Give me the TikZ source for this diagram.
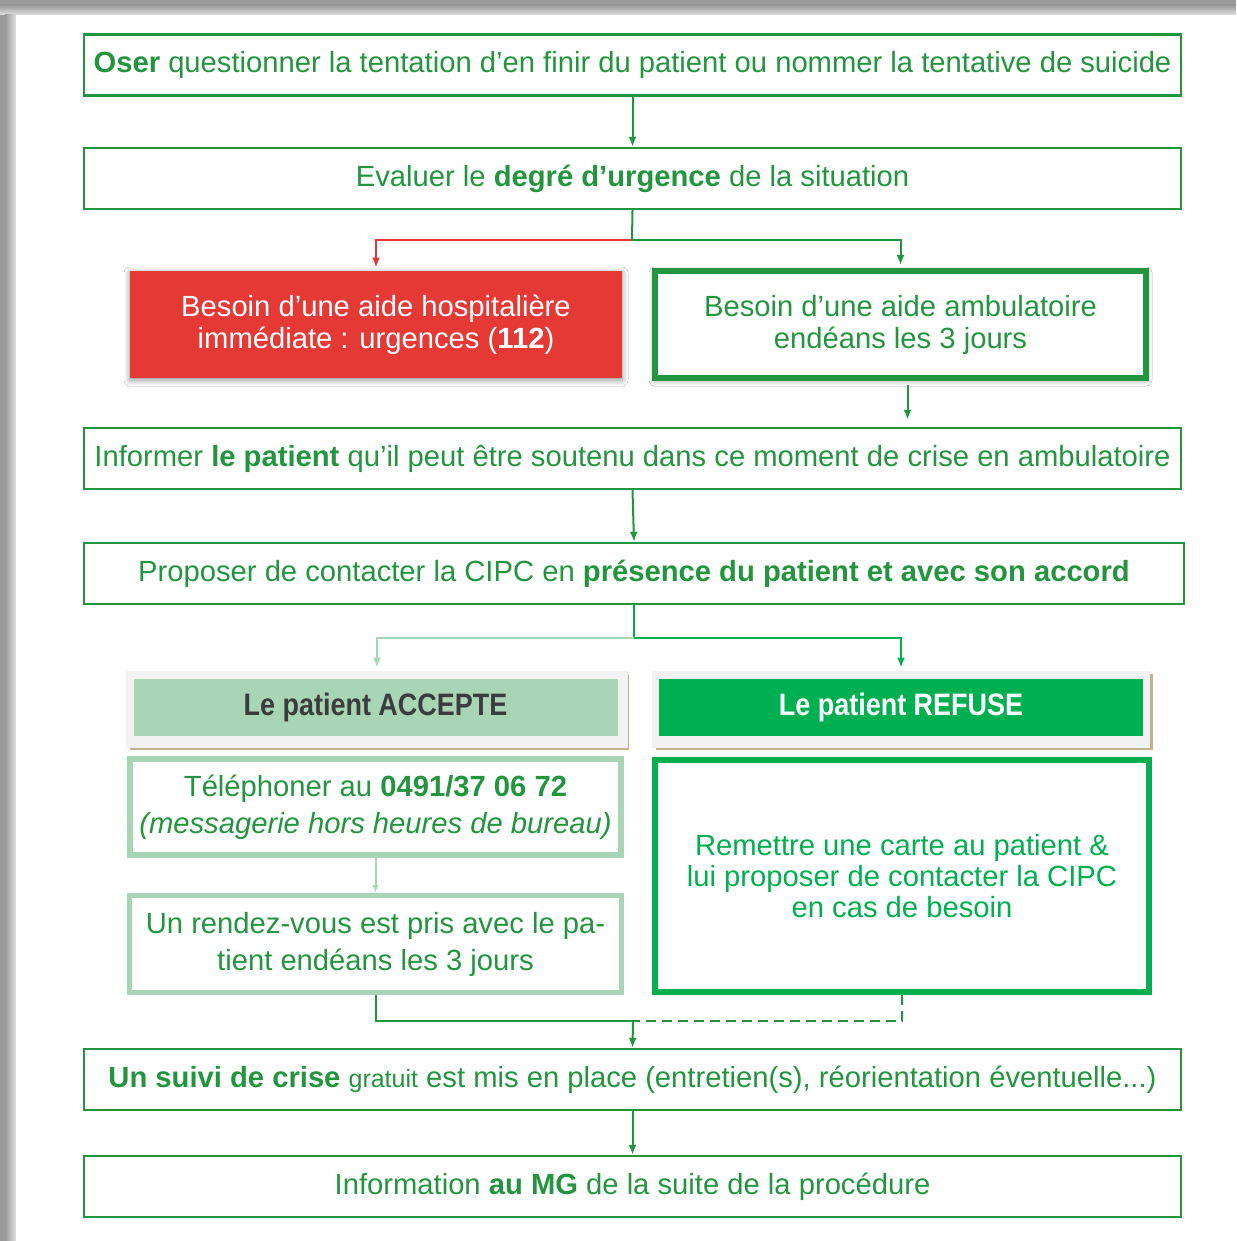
\documentclass[tikz,border=0pt]{standalone}
\usepackage{fontspec}
\setmainfont{Liberation Sans}
\newfontfamily\condfont[FakeStretch=0.87]{Liberation Sans}
\usetikzlibrary{arrows.meta,shadows.blur,calc}
\definecolor{gD}{HTML}{23953F}
\definecolor{gB}{HTML}{00AF50}
\definecolor{gL}{HTML}{A8D5B5}
\definecolor{rR}{HTML}{E53935}
\definecolor{tanc}{HTML}{BFB391}
\definecolor{lgray}{HTML}{F2F2F2}
\definecolor{hdark}{HTML}{3C3C3C}
\tikzset{
  wide/.style={draw=gD, line width=1.2pt, fill=white, text=gD, inner sep=0pt,
    minimum width=548.5pt, minimum height=30.5pt, font=\fontsize{14.6}{17}\selectfont},
  arr/.style={draw=gD, line width=1pt, -{Latex[length=5pt,width=4pt]}},
  ln/.style={draw=gD, line width=1pt},
  hdrout/.style={fill=lgray, inner sep=0pt, minimum width=250pt, minimum height=38.5pt},
  hdrin/.style={inner sep=0pt, minimum width=242pt, minimum height=28.5pt,
    font=\condfont\bfseries\fontsize{15.5}{18}\selectfont},
  mid/.style={inner sep=0pt, align=center, font=\fontsize{14.6}{16}\selectfont},
}
\begin{document}
\begin{tikzpicture}[x=0.5pt,y=-0.5pt]
\useasboundingbox (0,0) rectangle (1236,1241);
% page shadow
\fill[black!40] (0,0) rectangle (1236,1241);
\shade[top color=black!40, bottom color=black!12] (0,5) rectangle (1236,15);
\shade[left color=black!40, right color=black!12] (5,15) rectangle (16,1241);
\fill[white] (16,15) rectangle (1236,1241);

% row 1-2
\node[wide] (b1) at (632.5,65) {\textbf{Oser} questionner la tentation d’en finir du patient ou nommer la tentative de suicide};
\node[wide] (b2) at (632.5,178.5) {Evaluer le \textbf{degré d’urgence} de la situation};

% red and ambulatory boxes
\node[mid, fill=rR, text=white, minimum width=246pt, minimum height=53.5pt,
  blur shadow={shadow xshift=0pt, shadow yshift=-1pt, shadow blur radius=3pt, shadow opacity=45}] (red) at (376,324.5)
  {Besoin d’une aide hospitalière\\immédiate : urgences (\textbf{112})};
\node[mid, draw=gD, line width=3pt, fill=white, text=gD, minimum width=245.5pt, minimum height=53.5pt,
  blur shadow={shadow xshift=0pt, shadow yshift=-1pt, shadow blur radius=3pt, shadow opacity=45}] (amb) at (900.5,324.5)
  {Besoin d’une aide ambulatoire\\endéans les 3 jours};

\node[wide] (b5) at (632.5,458.5) {Informer \textbf{le patient} qu’il peut être soutenu dans ce moment de crise en ambulatoire};
\node[wide, minimum width=550pt] (b6) at (634,573.5) {Proposer de contacter la CIPC en \textbf{présence du patient et avec son accord}};

% headers
\fill[tanc] (130,674) rectangle (629,750);
\node[hdrout, minimum width=251pt] (accO) at (377,709.5) {};
\node[hdrin, fill=gL, text=hdark] (acc) at (375.5,707.5) {Le patient ACCEPTE};
\fill[tanc] (656,674) rectangle (1153,750);
\node[hdrout, minimum width=249pt] (refO) at (901,709.5) {};
\node[hdrin, fill=gB, text=white] (ref) at (901,707.5) {Le patient REFUSE};

% accept column
\node[mid, draw=gL, line width=3pt, fill=white, text=gD, minimum width=245.5pt, minimum height=48pt,
  font=\fontsize{14.6}{18.5}\selectfont] (tel) at (375.5,807)
  {Téléphoner au \textbf{0491/37 06 72}\\\textit{(messagerie hors heures de bureau)}};
\node[mid, draw=gL, line width=2.5pt, fill=white, text=gD, minimum width=246pt, minimum height=48.5pt,
  font=\fontsize{14.6}{18.5}\selectfont] (rdv) at (375.5,944)
  {Un rendez-vous est pris avec le pa-\\tient endéans les 3 jours};

% refuse column
\node[mid, draw=gB, line width=3pt, fill=white, text=gB, minimum width=247pt, minimum height=116pt,
  font=\fontsize{14.6}{15.5}\selectfont] (rem) at (902,876)
  {Remettre une carte au patient \&\\lui proposer de contacter la CIPC\\en cas de besoin};

\node[wide] (b13) at (632.5,1079.5) {\textbf{Un suivi de crise} {\fontsize{12.5}{14}\selectfont gratuit} est mis en place (entretien(s), réorientation éventuelle...)};
\node[wide] (b14) at (632.5,1186.5) {Information \textbf{au MG} de la suite de la procédure};

% connectors
\coordinate (j1) at (632,240);
\coordinate (j2) at (634,638);
\coordinate (j3) at (633,1021);
\draw[arr] (b1.south) -- (b2.north);
\draw[ln] (b2.south) -- (j1);
\draw[arr] (j1) -| ([yshift=1.5pt]amb.north);
\draw[draw=rR, line width=1pt, -{Latex[length=5pt,width=4pt]}] (j1) -| ([yshift=1.5pt]red.north);
\draw[arr] ([xshift=3.5pt,yshift=-2pt]amb.south) -- ([xshift=3.5pt,yshift=3.5pt]amb.south |- b5.north);
\draw[arr] (b5.south) -- (b6.north);
\draw[draw=gB, line width=1pt] (b6.south) -- (j2);
\draw[draw=gL, line width=1pt, -{Latex[length=5pt,width=4pt]}] (j2) -| ([yshift=1.5pt]accO.north);
\draw[draw=gB, line width=1pt, -{Latex[length=5pt,width=4pt]}] (j2) -| ([yshift=1.5pt]refO.north);
\draw[draw=gL, line width=1pt, -{Latex[length=4pt,width=3pt]}] (tel.south) -- (rdv.north);
\draw[ln] (rdv.south) |- (j3);
\draw[ln, dashed, dash pattern=on 5pt off 3pt] (rem.south) |- (j3);
\draw[arr] (j3) -- (b13.north);
\draw[arr] (b13.south) -- (b14.north);
\end{tikzpicture}
\end{document}
